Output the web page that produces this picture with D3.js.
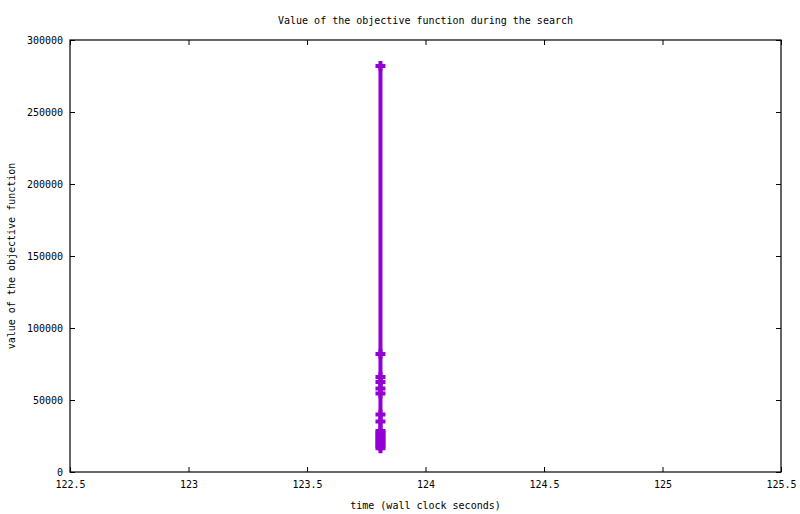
<!DOCTYPE html>
<html>
<head>
<meta charset="utf-8">
<script src="https://cdn.jsdelivr.net/npm/d3@7/dist/d3.min.js"></script>
<style>
  body { margin: 0; background: #fff; }
  text { font-family: "DejaVu Sans Mono", monospace; font-size: 10px; fill: #000; }
</style>
</head>
<body>
<svg id="chart" width="800" height="514"></svg>
<script>
// wall clock time of each improvement (seconds) and the objective value found
const times = [123.81, 123.81, 123.81, 123.81, 123.81, 123.81, 123.81, 123.81,
               123.81, 123.81, 123.81, 123.81, 123.81, 123.81, 123.81, 123.81, 123.81];
const objective = [282000, 82000, 66000, 62500, 58000, 54500, 40000, 35000,
                   28500, 27000, 25500, 24000, 22500, 21000, 19500, 18000, 16500];
const xTicks = [122.5, 123, 123.5, 124, 124.5, 125, 125.5];
const yTicks = [0, 50000, 100000, 150000, 200000, 250000, 300000];

const margin = { top: 40, right: 19, bottom: 42, left: 70 };
const width = 800 - margin.left - margin.right;
const height = 514 - margin.top - margin.bottom;
const color = "#9400d3";

const svg = d3.select("#chart");
const g = svg.append("g")
  .attr("transform", "translate(" + margin.left + "," + margin.top + ")");

const x = d3.scaleLinear().domain([122.5, 125.5]).range([0, width]);
const y = d3.scaleLinear().domain([0, 300000]).range([height, 0]);

// axes with ticks pointing inward, mirrored on top and right
function styleAxis(sel) {
  sel.select(".domain").remove();
  sel.selectAll(".tick line").attr("stroke", "#000").attr("stroke-width", 1);
}

g.append("g")
  .attr("transform", "translate(0," + height + ")")
  .call(d3.axisBottom(x).tickValues(xTicks).tickFormat(d => d).tickSizeInner(-5).tickPadding(9))
  .call(styleAxis)
  .selectAll("text").attr("dy", "0.71em").style("font-size", "10px").style("font-family", "DejaVu Sans Mono");

g.append("g")
  .call(d3.axisTop(x).tickValues(xTicks).tickFormat("").tickSizeInner(-5))
  .call(styleAxis);

g.append("g")
  .call(d3.axisLeft(y).tickValues(yTicks).tickFormat(d => d).tickSizeInner(-5).tickPadding(7))
  .call(styleAxis)
  .selectAll("text").style("font-size", "10px").style("font-family", "DejaVu Sans Mono");

g.append("g")
  .attr("transform", "translate(" + width + ",0)")
  .call(d3.axisRight(y).tickValues(yTicks).tickFormat("").tickSizeInner(-5))
  .call(styleAxis);

// border
g.append("rect")
  .attr("x", 0).attr("y", 0)
  .attr("width", width).attr("height", height)
  .attr("fill", "none").attr("stroke", "#000").attr("stroke-width", 1.2);

// series: lines + crosses
const data = times.map((t, i) => ({ t: t, v: objective[i] }));

g.append("path")
  .datum(data)
  .attr("fill", "none")
  .attr("stroke", color)
  .attr("stroke-width", 4)
  .attr("d", d3.line().x(d => x(d.t)).y(d => y(d.v)));

g.selectAll(".pt")
  .data(data)
  .enter()
  .append("path")
  .attr("class", "pt")
  .attr("fill", "none")
  .attr("stroke", color)
  .attr("stroke-width", 4)
  .attr("d", d => {
    const cx = x(d.t), cy = y(d.v);
    return "M" + (cx - 5) + "," + cy + "H" + (cx + 5) + "M" + cx + "," + (cy - 5) + "V" + (cy + 5);
  });

// labels
svg.append("text")
  .attr("x", margin.left + width / 2)
  .attr("y", 20)
  .attr("text-anchor", "middle")
  .attr("dominant-baseline", "central")
  .text("Value of the objective function during the search");

svg.append("text")
  .attr("x", margin.left + width / 2)
  .attr("y", 505)
  .attr("text-anchor", "middle")
  .attr("dominant-baseline", "central")
  .text("time (wall clock seconds)");

svg.append("text")
  .attr("transform", "translate(11," + (margin.top + height / 2) + ") rotate(-90)")
  .attr("text-anchor", "middle")
  .attr("dominant-baseline", "central")
  .text("value of the objective function");
</script>
</body>
</html>
